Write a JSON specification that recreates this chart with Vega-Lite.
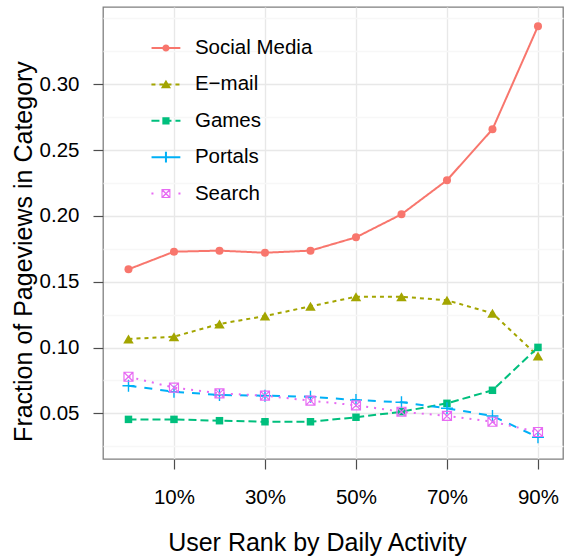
{
  "$schema": "https://vega.github.io/schema/vega-lite/v6.json",
  "width": 460,
  "height": 452,
  "autosize": {"type": "none"},
  "padding": {"left": 103, "top": 7, "right": 1, "bottom": 98},
  "background": "white",
  "config": {
    "font": "Liberation Sans",
    "view": {"stroke": "#7f7f7f", "strokeWidth": 1.3},
    "axis": {
      "domain": false,
      "labelColor": "#000000",
      "labelFontSize": 20.5,
      "labelFont": "Liberation Sans",
      "titleFont": "Liberation Sans",
      "titleFontSize": 25,
      "titleFontWeight": "normal",
      "titleColor": "#000000",
      "tickColor": "#4d4d4d",
      "tickWidth": 1.2,
      "tickSize": 10,
      "gridWidth": 1.4
    }
  },
  "data": {
    "values": [
      {"rank": 0, "category": "Social Media", "fraction": 0.1594},
      {"rank": 10, "category": "Social Media", "fraction": 0.1728},
      {"rank": 20, "category": "Social Media", "fraction": 0.1736},
      {"rank": 30, "category": "Social Media", "fraction": 0.1720},
      {"rank": 40, "category": "Social Media", "fraction": 0.1736},
      {"rank": 50, "category": "Social Media", "fraction": 0.1837},
      {"rank": 60, "category": "Social Media", "fraction": 0.2012},
      {"rank": 70, "category": "Social Media", "fraction": 0.2271},
      {"rank": 80, "category": "Social Media", "fraction": 0.2658},
      {"rank": 90, "category": "Social Media", "fraction": 0.3441},
      {"rank": 0, "category": "E\u2212mail", "fraction": 0.1065},
      {"rank": 10, "category": "E\u2212mail", "fraction": 0.1082},
      {"rank": 20, "category": "E\u2212mail", "fraction": 0.1179},
      {"rank": 30, "category": "E\u2212mail", "fraction": 0.1239},
      {"rank": 40, "category": "E\u2212mail", "fraction": 0.1313},
      {"rank": 50, "category": "E\u2212mail", "fraction": 0.1386},
      {"rank": 60, "category": "E\u2212mail", "fraction": 0.1386},
      {"rank": 70, "category": "E\u2212mail", "fraction": 0.1359},
      {"rank": 80, "category": "E\u2212mail", "fraction": 0.1260},
      {"rank": 90, "category": "E\u2212mail", "fraction": 0.0935},
      {"rank": 0, "category": "Games", "fraction": 0.0454},
      {"rank": 10, "category": "Games", "fraction": 0.0454},
      {"rank": 20, "category": "Games", "fraction": 0.0444},
      {"rank": 30, "category": "Games", "fraction": 0.0436},
      {"rank": 40, "category": "Games", "fraction": 0.0436},
      {"rank": 50, "category": "Games", "fraction": 0.0470},
      {"rank": 60, "category": "Games", "fraction": 0.0512},
      {"rank": 70, "category": "Games", "fraction": 0.0576},
      {"rank": 80, "category": "Games", "fraction": 0.0675},
      {"rank": 90, "category": "Games", "fraction": 0.1001},
      {"rank": 0, "category": "Portals", "fraction": 0.0710},
      {"rank": 10, "category": "Portals", "fraction": 0.0664},
      {"rank": 20, "category": "Portals", "fraction": 0.0639},
      {"rank": 30, "category": "Portals", "fraction": 0.0634},
      {"rank": 40, "category": "Portals", "fraction": 0.0626},
      {"rank": 50, "category": "Portals", "fraction": 0.0601},
      {"rank": 60, "category": "Portals", "fraction": 0.0584},
      {"rank": 70, "category": "Portals", "fraction": 0.0538},
      {"rank": 80, "category": "Portals", "fraction": 0.0480},
      {"rank": 90, "category": "Portals", "fraction": 0.0318},
      {"rank": 0, "category": "Search", "fraction": 0.0778},
      {"rank": 10, "category": "Search", "fraction": 0.0695},
      {"rank": 20, "category": "Search", "fraction": 0.0652},
      {"rank": 30, "category": "Search", "fraction": 0.0634},
      {"rank": 40, "category": "Search", "fraction": 0.0596},
      {"rank": 50, "category": "Search", "fraction": 0.0561},
      {"rank": 60, "category": "Search", "fraction": 0.0512},
      {"rank": 70, "category": "Search", "fraction": 0.0480},
      {"rank": 80, "category": "Search", "fraction": 0.0436},
      {"rank": 90, "category": "Search", "fraction": 0.0358}
    ]
  },
  "encoding": {
    "x": {
      "field": "rank",
      "type": "quantitative",
      "scale": {"domain": [-5.6, 95.5], "nice": false, "zero": false},
      "axis": {
        "title": "User Rank by Daily Activity",
        "values": [10, 30, 50, 70, 90],
        "labelExpr": "datum.value + '%'",
        "labelPadding": 18,
        "gridColor": "#e8e8e8",
        "titleX": 214,
        "titleY": 91,
        "titleAlign": "center",
        "titleBaseline": "alphabetic"
      }
    },
    "y": {
      "field": "fraction",
      "type": "quantitative",
      "scale": {"domain": [0.0153, 0.3587], "nice": false, "zero": false},
      "axis": {
        "title": "Fraction of Pageviews in Category",
        "values": [0.025, 0.05, 0.075, 0.1, 0.125, 0.15, 0.175, 0.2, 0.225, 0.25, 0.275, 0.3, 0.325, 0.35],
        "labelExpr": "datum.value < 0.34 && round(datum.value * 1000) % 50 == 0 ? format(datum.value, '.2f') : ''",
        "labelPadding": 14,
        "tickOpacity": {"condition": {"test": "datum.value < 0.34 && round(datum.value * 1000) % 50 == 0", "value": 1}, "value": 0},
        "gridColor": {"condition": {"test": "datum.value < 0.34 && round(datum.value * 1000) % 50 == 0", "value": "#e8e8e8"}, "value": "#f7f7f7"},
        "titleX": -72,
        "titleY": 244,
        "titleAngle": 270,
        "titleAlign": "center",
        "titleBaseline": "alphabetic"
      }
    },
    "color": {
      "field": "category",
      "type": "nominal",
      "scale": {
        "domain": ["Social Media", "E\u2212mail", "Games", "Portals", "Search"],
        "range": ["#F8766D", "#A3A500", "#00BF7D", "#00B0F6", "#E76BF3"]
      },
      "legend": {
        "title": null,
        "orient": "none",
        "legendX": 44.95,
        "legendY": 23,
        "padding": 0,
        "rowPadding": 0.4,
        "symbolSize": 1296,
        "symbolStrokeWidth": 0,
        "symbolOpacity": 1,
        "labelFontSize": 20.5,
        "labelColor": "#000000",
        "labelFont": "Liberation Sans",
        "labelOffset": 11,
        "encode": {
          "symbols": {
            "update": {
              "stroke": {"value": "transparent"},
              "strokeWidth": {"value": 0},
              "opacity": {"value": 1}
            }
          }
        }
      }
    }
  },
  "layer": [
    {
      "mark": {"type": "line", "strokeWidth": 2, "strokeCap": "butt"},
      "encoding": {
        "strokeDash": {
          "field": "category",
          "type": "nominal",
          "scale": {
            "domain": ["Social Media", "E\u2212mail", "Games", "Portals", "Search"],
            "range": [[1, 0], [4, 4], [8, 4], [8, 8], [2, 6]]
          },
          "legend": null
        }
      }
    },
    {
      "transform": [{"filter": "datum.category == 'Social Media'"}],
      "mark": {"type": "point", "shape": "circle", "filled": true, "opacity": 1, "size": 64}
    },
    {
      "transform": [{"filter": "datum.category == 'E\u2212mail'"}],
      "mark": {"type": "point", "shape": "triangle-up", "filled": true, "opacity": 1, "size": 110}
    },
    {
      "transform": [{"filter": "datum.category == 'Games'"}],
      "mark": {"type": "point", "shape": "square", "filled": true, "opacity": 1, "size": 56}
    },
    {
      "transform": [{"filter": "datum.category == 'Portals'"}],
      "mark": {"type": "point", "shape": "M-1,0H1M0,-1V1", "filled": false, "opacity": 1, "strokeWidth": 1.4, "size": 144}
    },
    {
      "transform": [{"filter": "datum.category == 'Search'"}],
      "mark": {"type": "point", "shape": "M-1,-1H1V1H-1ZM-1,-1L1,1M-1,1L1,-1", "filled": false, "opacity": 1, "strokeWidth": 1.2, "size": 81}
    },
    {
      "mark": {"type": "point", "filled": true, "opacity": 0},
      "encoding": {
        "shape": {
          "field": "category",
          "type": "nominal",
          "scale": {
            "domain": ["Social Media", "E\u2212mail", "Games", "Portals", "Search"],
            "range": [
              "M0,-1M0,1M-0.8,-0.056H0.8V0.056H-0.8ZM-0.2,0A0.2,0.2 0 1,1 0.2,0A0.2,0.2 0 1,1 -0.2,0Z",
              "M0,-1M0,1M-0.806,-0.056H-0.583V0.056H-0.806ZM-0.361,-0.056H-0.139V0.056H-0.361ZM0.083,-0.056H0.306V0.056H0.083ZM0.528,-0.056H0.75V0.056H0.528ZM0,-0.26L0.28,0.22L-0.28,0.22Z",
              "M0,-1M0,1M-0.806,-0.056H-0.361V0.056H-0.806ZM-0.139,-0.056H0.306V0.056H-0.139ZM0.528,-0.056H0.806V0.056H0.528ZM-0.2,-0.2H0.2V0.2H-0.2Z",
              "M0,-1M0,1M-0.8,-0.056H0.8V0.056H-0.8ZM-0.056,-0.3H0.056V0.3H-0.056Z",
              "M0,-1M0,1M-0.806,-0.056H-0.694V0.056H-0.806ZM0.694,-0.056H0.806V0.056H0.694ZM-0.25,-0.25H0.25V0.25H-0.25ZM-0.19,-0.19V0.19H0.19V-0.19ZM-0.162,-0.218L0.218,0.162L0.162,0.218L-0.218,-0.162ZM-0.218,0.162L0.162,-0.218L0.218,-0.162L-0.162,0.218Z"
            ]
          },
          "legend": null
        }
      }
    }
  ]
}
